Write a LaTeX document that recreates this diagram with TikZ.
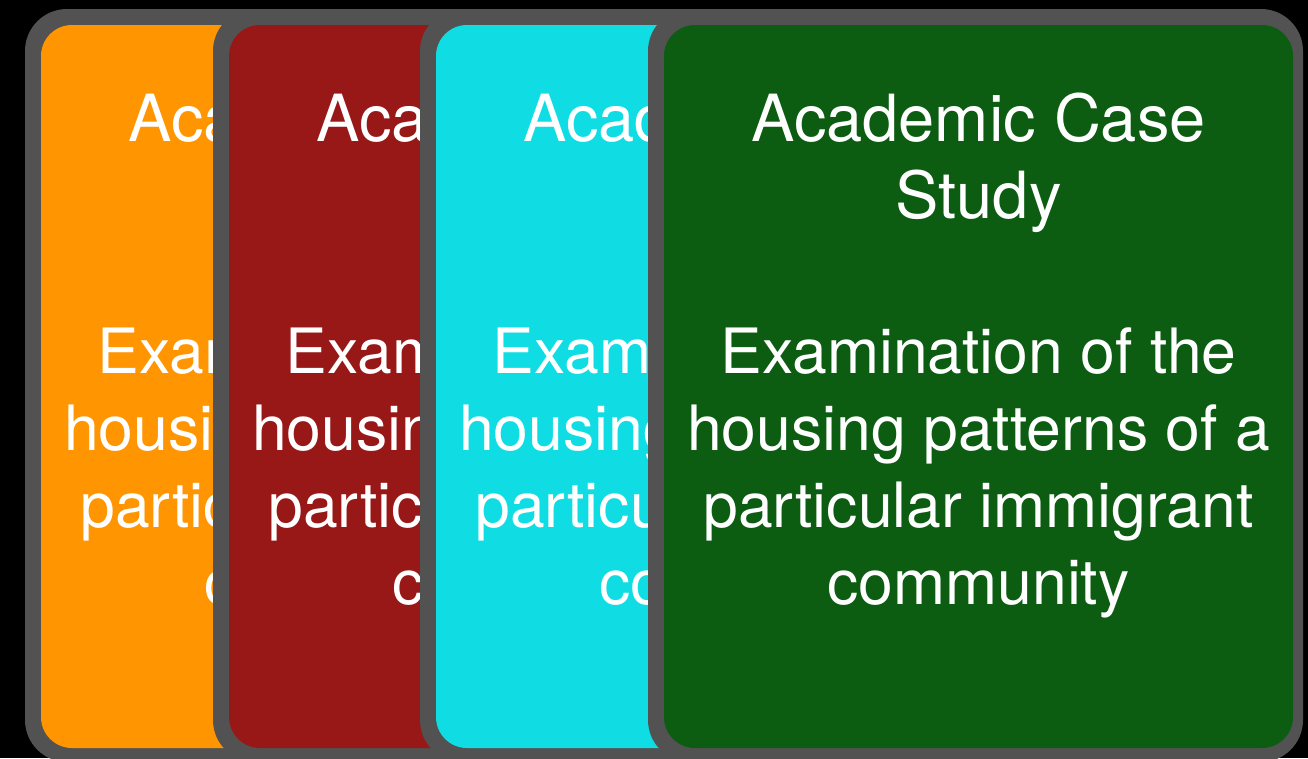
\documentclass[tikz,border=0pt]{standalone}
\usepackage{fontspec}
\newfontfamily\cardfont{TeX Gyre Heros}
\definecolor{cardgray}{HTML}{525252}
\definecolor{corange}{HTML}{FF9500}
\definecolor{cred}{HTML}{981818}
\definecolor{ccyan}{HTML}{10DDE3}
\definecolor{cgreen}{HTML}{0C5C12}
\tikzset{
  frame/.style={fill=cardgray, rounded corners=42pt, inner sep=0pt, outer sep=0pt,
    minimum width=655pt, minimum height=753pt, anchor=north west},
  face/.style={rounded corners=31pt, inner sep=0pt, outer sep=0pt,
    minimum width=629pt, minimum height=723pt, anchor=north west},
  cardtext/.style={text=white, font=\cardfont\fontsize{62.5}{76}\selectfont, anchor=base, inner sep=0pt},
  cardtitle/.style={cardtext, font=\cardfont\fontsize{65}{78}\selectfont}
}
\begin{document}
\begin{tikzpicture}[x=1pt,y=-1pt]
\clip (0,0) rectangle (1308,758);
\fill[black] (0,0) rectangle (1308,758);
\foreach \n/\fx/\col in {1/41/corange,2/229/cred,3/436/ccyan,4/664/cgreen}{
  \node[frame] (g\n) at (\fx-16,9) {};
  \node[face, fill=\col] (f\n) at (\fx,25) {};
  \foreach \j/\txt/\yy in {1/Academic Case/141,2/Study/218}{
    \node[cardtitle] (h\n-\j) at (\fx+314.5,\yy) {\txt};
  }
  \foreach \j/\txt/\yy in {1/Examination of the/373,2/housing patterns of a/450,3/particular immigrant/527,4/community/604}{
    \node[cardtext] (t\n-\j) at (\fx+314.5,\yy) {\txt};
  }
}
\end{tikzpicture}
\end{document}
